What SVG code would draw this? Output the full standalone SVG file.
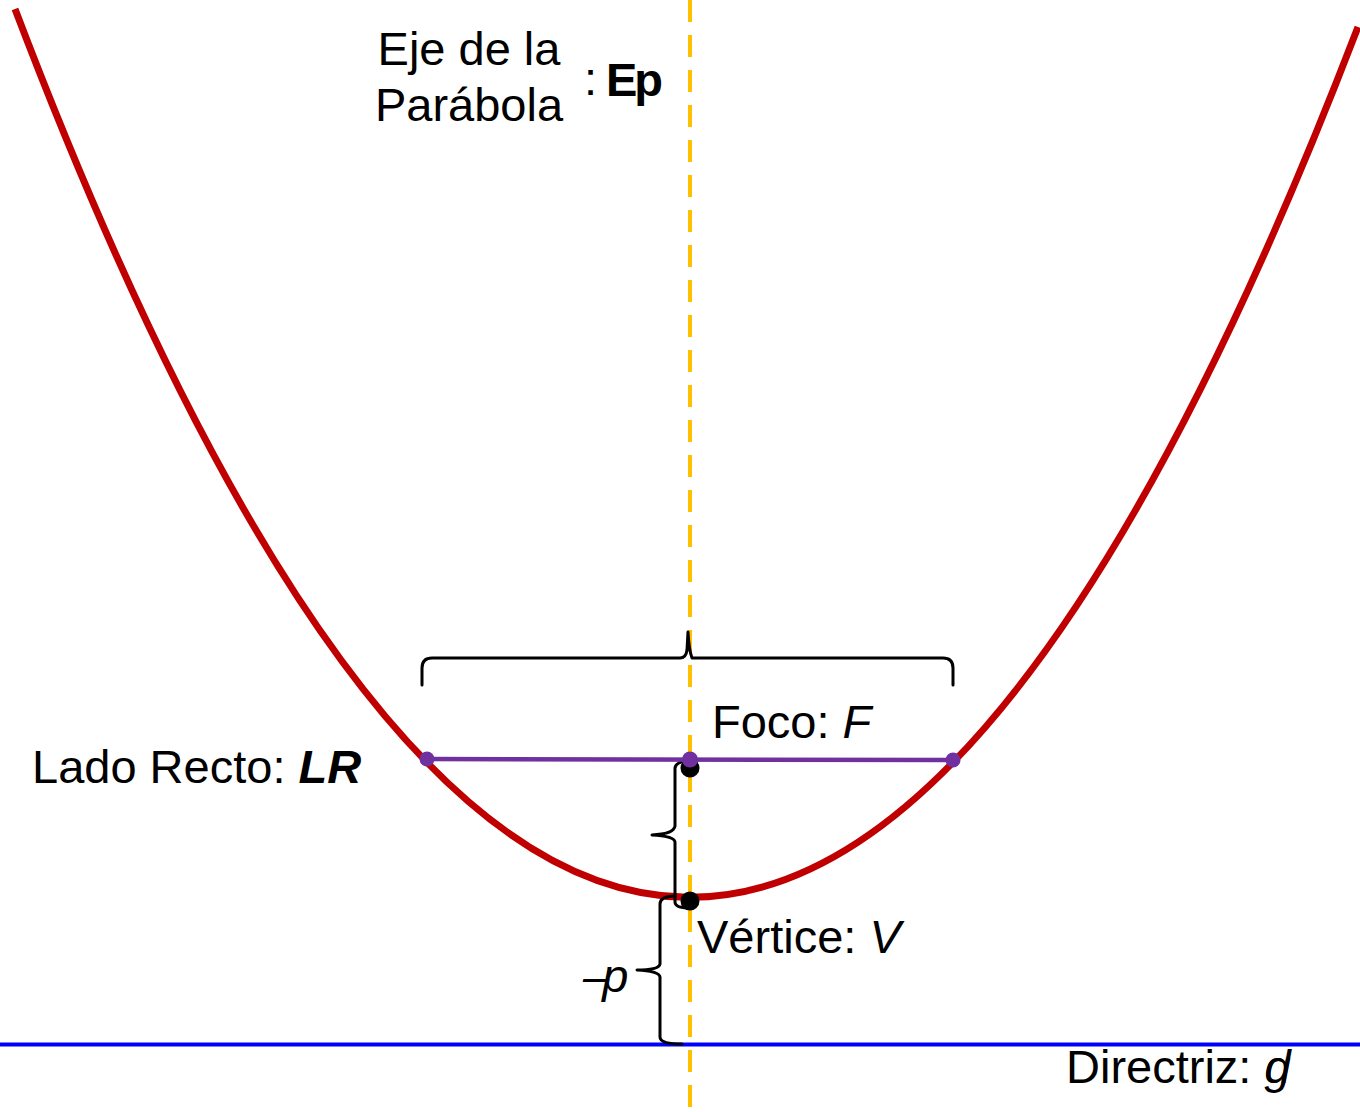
<svg xmlns="http://www.w3.org/2000/svg" width="1360" height="1112" viewBox="0 0 1360 1112">
<style>
text{font-family:"Liberation Sans",Arial,sans-serif;font-size:47px;fill:#000}
.it{font-style:italic}
.bd{font-weight:bold}
.brace{fill:none;stroke:#000;stroke-width:3;stroke-linecap:round;stroke-linejoin:round}
</style>
<rect width="1360" height="1112" fill="#fff"/>
<g id="axis">
<line x1="690" y1="0" x2="690" y2="1112" stroke="#FFC000" stroke-width="4" stroke-dasharray="22 13"/>
</g>
<g id="directrix">
<line x1="0" y1="1044.5" x2="1360" y2="1044.5" stroke="#0000FF" stroke-width="4"/>
</g>
<g id="parabola">
<path d="M15 9 Q686.5 1776.5 1358 27" fill="none" stroke="#C00000" stroke-width="7"/>
</g>
<g id="connectors">
<path class="brace" d="M422 685 L422 668 Q422 658 432 658 L680 658 Q686 658 687 650 L688 632 Q689 650 692 658 L943 658 Q953 658 953 668 L953 685"/>
<path class="brace" d="M697 760 Q676 760 675 768 L675 826 Q674 834 652 835 Q674 836 675 842 L675 902 Q675 908 690 908"/>
<path class="brace" d="M673 896 Q660 897 660 904 L660 964 Q659 970 637 970 Q659 971 660 977 L660 1037 Q660 1044 682 1044"/>
</g>
<g id="vertex">
<circle cx="690" cy="901" r="9.5" fill="#000"/>
<text x="697" y="953">Vértice: <tspan class="it">V</tspan></text>
</g>
<g id="focus">
<circle cx="690" cy="768" r="9.5" fill="#000"/>
</g>
<g id="latus-rectum">
<line x1="427" y1="759" x2="953" y2="760" stroke="#7030A0" stroke-width="4.5"/>
<circle cx="427" cy="759" r="7.5" fill="#7030A0"/>
<circle cx="690" cy="759.5" r="8" fill="#7030A0"/>
<circle cx="953" cy="760" r="7.5" fill="#7030A0"/>
<text x="32" y="783">Lado Recto: <tspan class="it bd">LR</tspan></text>
</g>
<g id="focus-label">
<text x="712" y="738">Foco: <tspan class="it">F</tspan></text>
</g>
<g id="axis-label">
<text x="469" y="65" text-anchor="middle">Eje de la</text>
<text x="469" y="121" text-anchor="middle">Parábola</text>
<text x="584" y="95">:</text>
<text x="606" y="96" class="bd" letter-spacing="-3">Ep</text>
</g>
<g id="p-label">
<text x="583" y="992" class="it" letter-spacing="-7">–p</text>
</g>
<g id="directrix-label">
<text x="1066" y="1083">Directriz: <tspan class="it">g</tspan><tspan class="it" dx="-26">d</tspan></text>
</g>
</svg>
